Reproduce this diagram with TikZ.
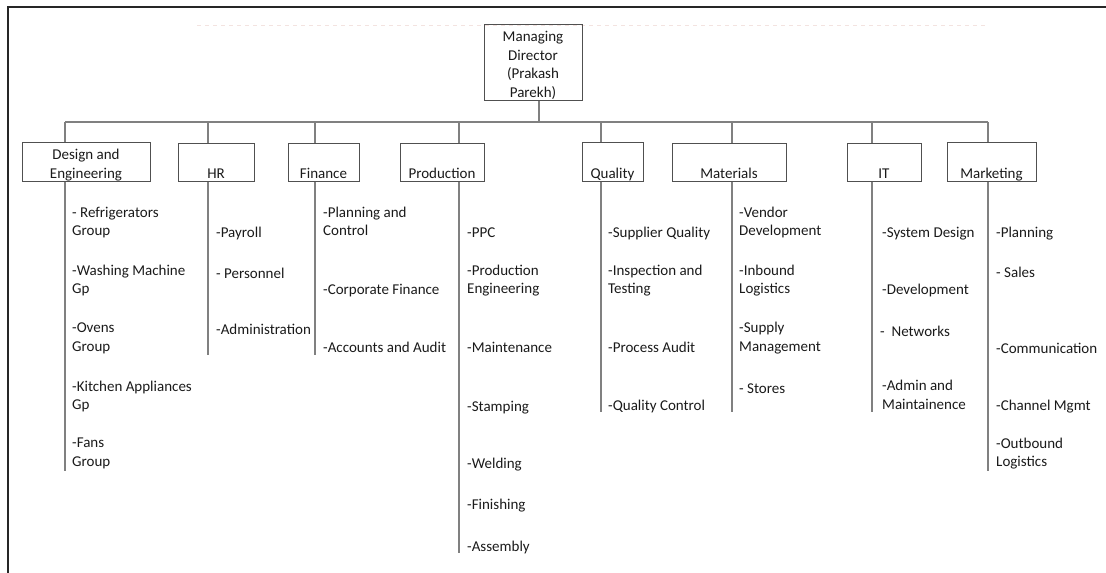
\documentclass[tikz,border=0pt]{standalone}
\usepackage{fontspec}
\setmainfont{Carlito}
\usepackage{xcolor}
\usepackage{tikz}
\definecolor{orgframe}{HTML}{262626}
\definecolor{orgbox}{HTML}{505050}
\definecolor{orgline}{HTML}{808080}
\definecolor{orgtext}{HTML}{1A1A1A}
\definecolor{orgfaint}{HTML}{F3E3E0}
\newcommand{\orghi}{\rule{0pt}{16.5pt}}
\newcommand{\orglo}{\rule[-2pt]{0pt}{0pt}}

\begin{document}
\begin{tikzpicture}[
  x=1pt, y=-1pt,
  unit/.style={draw=orgbox, line width=1pt, minimum height=38pt, inner sep=0.5pt, align=center, text=orgtext, font=\fontsize{15}{18.5}\selectfont},
  duty/.style={anchor=west, inner sep=0pt, yshift=-2.5pt, align=left, text=orgtext, font=\fontsize{15}{18.5}\selectfont, execute at begin node=\strut, execute at end node=\strut},
  link/.style={draw=orgline, line width=1.2pt}
]
\useasboundingbox (0,0) rectangle (1106,573);
\draw[orgframe, line width=1.5pt] (8,573) -- (8,7) -- (1106,7);
\draw[orgfaint, dash pattern=on 4pt off 4pt] (197,25) -- (987,25);

% head and departments
\node[unit, minimum width=98pt, minimum height=75pt] (md) at (533,62.5) {\orghi Managing\\Director\\(Prakash\\Parekh)\orglo};
\node[unit, minimum width=128pt] (design) at (86,162) {\orghi Design and\\Engineering\orglo};
\node[unit, minimum width=76pt] (hr) at (216,162) {\orghi\mbox{}\\HR\orglo};
\node[unit, minimum width=71pt] (finance) at (323.5,162) {\orghi\mbox{}\\Finance\orglo};
\node[unit, minimum width=84pt] (production) at (442,162) {\orghi\mbox{}\\Production\orglo};
\node[unit, minimum width=61pt] (quality) at (612.5,162) {\orghi\mbox{}\\Quality\orglo};
\node[unit, minimum width=114pt] (materials) at (729,162) {\orghi\mbox{}\\Materials\orglo};
\node[unit, minimum width=74pt] (it) at (884,162) {\orghi\mbox{}\\IT\orglo};
\node[unit, minimum width=89pt] (marketing) at (991.5,162) {\orghi\mbox{}\\Marketing\orglo};

% bus and stems
\coordinate (bus-md) at (539,122);
\coordinate (bus-design) at (65,122);
\coordinate (bus-hr) at (208,122);
\coordinate (bus-finance) at (315,122);
\coordinate (bus-production) at (459,122);
\coordinate (bus-quality) at (601,122);
\coordinate (bus-materials) at (732,122);
\coordinate (bus-it) at (872,122);
\coordinate (bus-marketing) at (988,122);
\coordinate (end-design) at (65,471);
\coordinate (end-hr) at (208,355);
\coordinate (end-finance) at (315,355);
\coordinate (end-production) at (459,553);
\coordinate (end-quality) at (601,412);
\coordinate (end-materials) at (732,412);
\coordinate (end-it) at (872,412);
\coordinate (end-marketing) at (988,471);

\draw[link] (md.south -| bus-md) -- (bus-md);
\draw[link] (bus-design) -- (bus-marketing);
\draw[link] (bus-design) -- (bus-design |- design.north);
\draw[link] (bus-hr) -- (bus-hr |- hr.north);
\draw[link] (bus-finance) -- (bus-finance |- finance.north);
\draw[link] (bus-production) -- (bus-production |- production.north);
\draw[link] (bus-quality) -- (bus-quality |- quality.north);
\draw[link] (bus-materials) -- (bus-materials |- materials.north);
\draw[link] (bus-it) -- (bus-it |- it.north);
\draw[link] (bus-marketing) -- (bus-marketing |- marketing.north);
\draw[link] (bus-design |- design.south) -- (end-design);
\draw[link] (bus-hr |- hr.south) -- (end-hr);
\draw[link] (bus-finance |- finance.south) -- (end-finance);
\draw[link] (bus-production |- production.south) -- (end-production);
\draw[link] (bus-quality |- quality.south) -- (end-quality);
\draw[link] (bus-materials |- materials.south) -- (end-materials);
\draw[link] (bus-it |- it.south) -- (end-it);
\draw[link] (bus-marketing |- marketing.south) -- (end-marketing);

% design and engineering
\node[duty] (de1) at (72,221.5) {- Refrigerators\\Group};
\node[duty] (de2) at (72,279.5) {-Washing Machine\\Gp};
\node[duty] (de3) at (72,337.5) {-Ovens\\Group};
\node[duty] (de4) at (72,395.5) {-Kitchen Appliances\\Gp};
\node[duty] (de5) at (72,452.5) {-Fans\\Group};

% hr
\node[duty] (hr1) at (216,231) {-Payroll};
\node[duty] (hr2) at (216,272) {- Personnel};
\node[duty] (hr3) at (216,328) {-Administration};

% finance
\node[duty] (fi1) at (323,221.5) {-Planning and\\Control};
\node[duty] (fi2) at (323,288) {-Corporate Finance};
\node[duty] (fi3) at (323,346) {-Accounts and Audit};

% production
\node[duty] (pr1) at (467,231) {-PPC};
\node[duty] (pr2) at (467,279.5) {-Production\\Engineering};
\node[duty] (pr3) at (467,346) {-Maintenance};
\node[duty] (pr4) at (467,405) {-Stamping};
\node[duty] (pr5) at (467,462) {-Welding};
\node[duty] (pr6) at (467,503) {-Finishing};
\node[duty] (pr7) at (467,545) {-Assembly};

% quality
\node[duty] (qu1) at (608,231) {-Supplier Quality};
\node[duty] (qu2) at (608,279.5) {-Inspection and\\Testing};
\node[duty] (qu3) at (608,346) {-Process Audit};
\node[duty] (qu4) at (608,404) {-Quality Control};

% materials
\node[duty] (ma1) at (739,221.5) {-Vendor\\Development};
\node[duty] (ma2) at (739,279.5) {-Inbound\\Logistics};
\node[duty] (ma3) at (739,337) {-Supply\\Management};
\node[duty] (ma4) at (739,387) {- Stores};

% it
\node[duty] (it1) at (882,231) {-System Design};
\node[duty] (it2) at (882,288) {-Development};
\node[duty] (it3) at (880,330) {-~~Networks};
\node[duty] (it4) at (882,395) {-Admin and\\Maintainence};

% marketing
\node[duty] (mk1) at (996,231) {-Planning};
\node[duty] (mk2) at (996,271) {- Sales};
\node[duty] (mk3) at (996,347) {-Communication};
\node[duty] (mk4) at (996,404) {-Channel Mgmt};
\node[duty] (mk5) at (996,452.5) {-Outbound\\Logistics};
\end{tikzpicture}
\end{document}
